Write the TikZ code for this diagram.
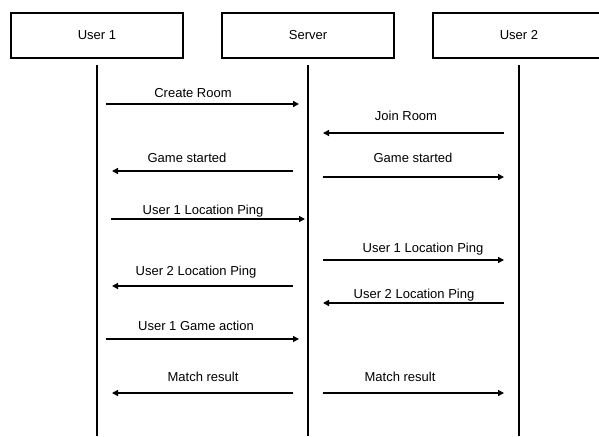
\documentclass[tikz,border=0pt]{standalone}
\usepackage{fontspec}
\setmainfont{Liberation Sans}
\usetikzlibrary{arrows.meta}

\begin{document}
\begin{tikzpicture}[x=1pt,y=-1pt,
    actor/.style={draw,line width=2.6pt,minimum width=172pt,minimum height=45pt,font=\fontsize{13}{15}\selectfont},
    life/.style={line width=1.8pt},
    msg/.style={line width=1.3pt,-{Triangle[length=6pt,width=6pt]}},
    lbl/.style={anchor=base,inner sep=0pt,font=\fontsize{13}{15}\selectfont}]
  \useasboundingbox (0,0) rectangle (599,436);
  \clip (0,0) rectangle (599,436);
  % participants
  \node[actor] (user1) at (97,35.5) {User 1};
  \node[actor] (server) at (308,35.5) {Server};
  \node[actor] (user2) at (519,35.5) {User 2};
  % lifelines
  \draw[life] ([yshift=-6pt]user1.south) -- (user1 |- 0,436);
  \draw[life] ([yshift=-6pt]server.south) -- (server |- 0,436);
  \draw[life] ([yshift=-6pt]user2.south) -- (user2 |- 0,436);
  % message ends
  \coordinate (createA) at (106,104);  \coordinate (createB) at (299,104);
  \coordinate (joinA) at (504,133);    \coordinate (joinB) at (323,133);
  \coordinate (startLA) at (293,171);  \coordinate (startLB) at (112,171);
  \coordinate (startRA) at (323,177);  \coordinate (startRB) at (504,177);
  \coordinate (ping1LA) at (111,219);  \coordinate (ping1LB) at (305,219);
  \coordinate (ping1RA) at (323,260);  \coordinate (ping1RB) at (504,260);
  \coordinate (ping2LA) at (293,286);  \coordinate (ping2LB) at (112,286);
  \coordinate (ping2RA) at (504,303);  \coordinate (ping2RB) at (323,303);
  \coordinate (actionA) at (106,339);  \coordinate (actionB) at (299,339);
  \coordinate (resultLA) at (293,393); \coordinate (resultLB) at (112,393);
  \coordinate (resultRA) at (323,393); \coordinate (resultRB) at (504,393);
  % messages
  \draw[msg] (createA) -- (createB);
  \node[lbl] (create) at (193,97.5) {Create Room};
  \draw[msg] (joinA) -- (joinB);
  \node[lbl] (join) at (406,120.5) {Join Room};
  \draw[msg] (startLA) -- (startLB);
  \node[lbl] (startL) at (187,162.3) {Game started};
  \draw[msg] (startRA) -- (startRB);
  \node[lbl] (startR) at (413,162.7) {Game started};
  \draw[msg] (ping1LA) -- (ping1LB);
  \node[lbl] (ping1L) at (203,214) {User 1 Location Ping};
  \draw[msg] (ping1RA) -- (ping1RB);
  \node[lbl] (ping1R) at (423,252) {User 1 Location Ping};
  \draw[msg] (ping2LA) -- (ping2LB);
  \node[lbl] (ping2L) at (196,275) {User 2 Location Ping};
  \draw[msg] (ping2RA) -- (ping2RB);
  \node[lbl] (ping2R) at (414,298) {User 2 Location Ping};
  \draw[msg] (actionA) -- (actionB);
  \node[lbl] (action) at (196,330) {User 1 Game action};
  \draw[msg] (resultLA) -- (resultLB);
  \node[lbl] (resultL) at (203,381.7) {Match result};
  \draw[msg] (resultRA) -- (resultRB);
  \node[lbl] (resultR) at (400,381) {Match result};
\end{tikzpicture}
\end{document}
